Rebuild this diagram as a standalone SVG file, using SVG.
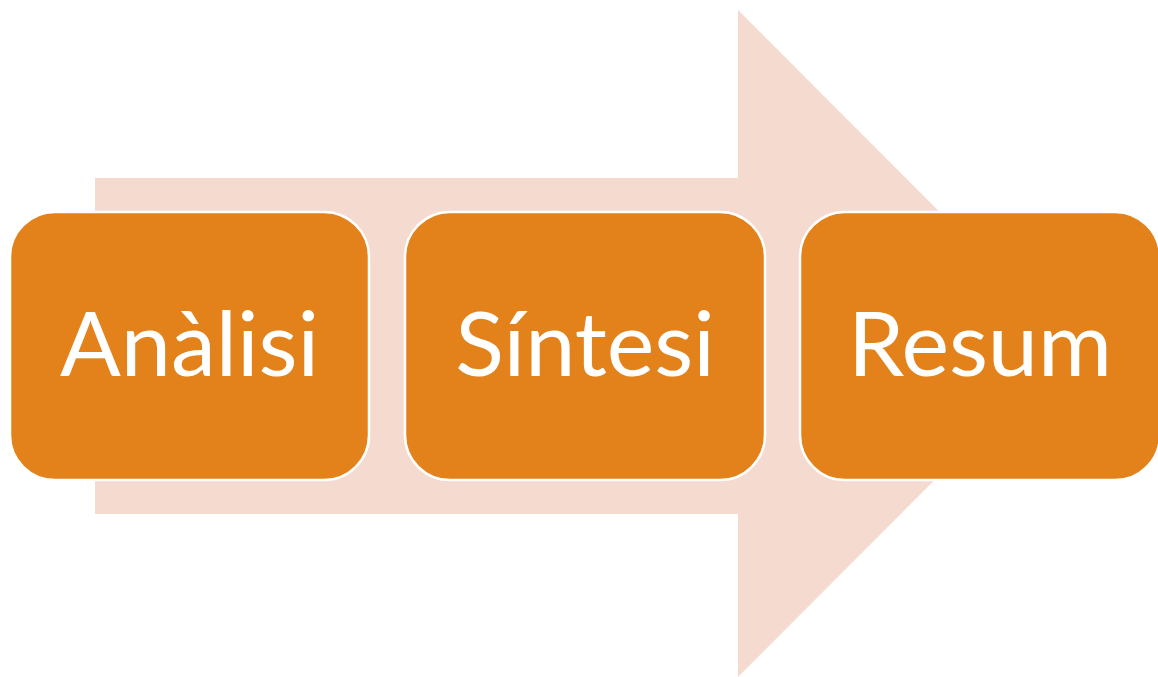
<svg xmlns="http://www.w3.org/2000/svg" width="1158" height="677" viewBox="0 0 1158 677">
<style>
.box{fill:#E3821A;stroke:#FFFFFF;stroke-width:2.5}
.lbl{fill:#FFFFFF;font-family:Lato,"Open Sans","Liberation Sans",sans-serif;font-size:90px;text-anchor:middle}
</style>
<rect width="1158" height="677" fill="#FFFFFF"/>
<g id="arrow">
<polygon points="95,178 738,178 738,10 1071,343.5 738,677 738,514 95,514" fill="#F5DAD0"/>
</g>
<g id="connectors"></g>
<g id="node-analisi">
<rect class="box" x="10" y="212" width="359" height="268" rx="45" ry="45"/>
<text class="lbl" x="189.5" y="376">Anàlisi</text>
</g>
<g id="node-sintesi">
<rect class="box" x="405" y="212" width="360" height="268" rx="45" ry="45"/>
<text class="lbl" x="585" y="376">Síntesi</text>
</g>
<g id="node-resum">
<rect class="box" x="800" y="212" width="360" height="268" rx="45" ry="45"/>
<text class="lbl" x="980" y="376">Resum</text>
</g>
</svg>
